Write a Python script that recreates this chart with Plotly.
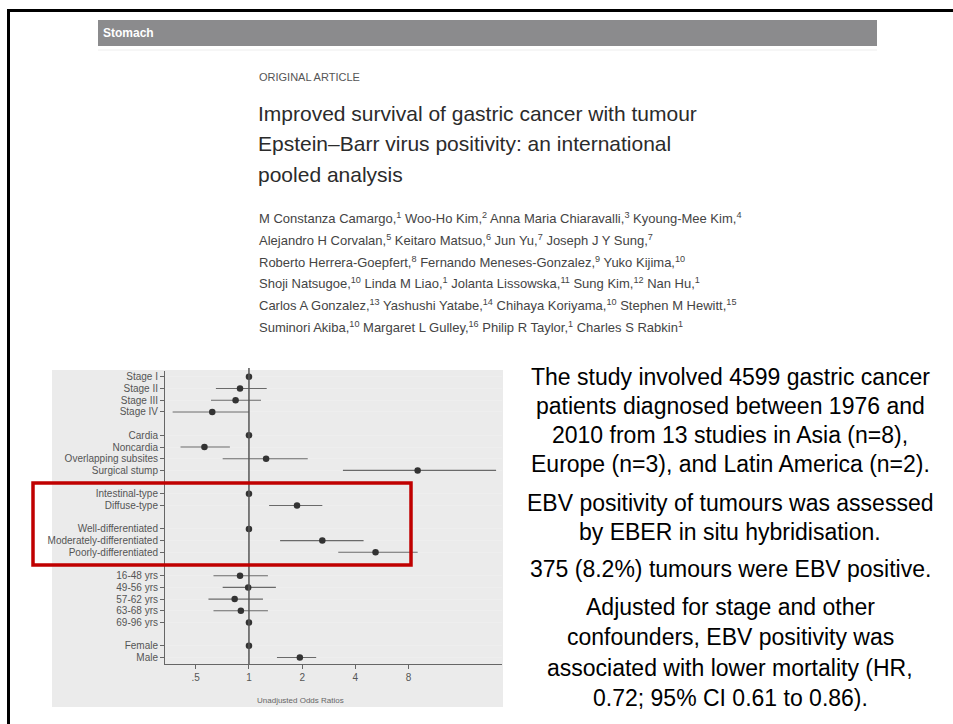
import math
import plotly.graph_objects as go

W, H = 953, 724

# ---------------- data ----------------
group_labels = [
    ["Stage I", "Stage II", "Stage III", "Stage IV"],
    ["Cardia", "Noncardia", "Overlapping subsites", "Surgical stump"],
    ["Intestinal-type", "Diffuse-type"],
    ["Well-differentiated", "Moderately-differentiated", "Poorly-differentiated"],
    ["16-48 yrs", "49-56 yrs", "57-62 yrs", "63-68 yrs", "69-96 yrs"],
    ["Female", "Male"],
]
odds_ratio = [1.0, 0.89, 0.84, 0.62,
              1.0, 0.56, 1.25, 9.0,
              1.0, 1.87,
              1.0, 2.6, 5.2,
              0.89, 0.99, 0.83, 0.90, 1.0,
              1.0, 1.94]
ci_low = [None, 0.65, 0.61, 0.37,
          None, 0.41, 0.71, 3.4,
          None, 1.30,
          None, 1.50, 3.2,
          0.63, 0.71, 0.59, 0.63, None,
          None, 1.44]
ci_high = [None, 1.26, 1.17, 1.00,
           None, 0.78, 2.15, 25.0,
           None, 2.60,
           None, 4.45, 9.0,
           1.28, 1.42, 1.20, 1.28, None,
           None, 2.40]
x_tick_vals = [0.5, 1, 2, 4, 8]
x_tick_text = [".5", "1", "2", "4", "8"]
x_axis_title = "Unadjusted Odds Ratios"

header_text = "Stomach"
kicker_text = "ORIGINAL ARTICLE"
title_lines = [
    "Improved survival of gastric cancer with tumour",
    "Epstein\u2013Barr virus positivity: an international",
    "pooled analysis",
]
author_lines = [
    "M Constanza Camargo,<sup>1</sup> Woo-Ho Kim,<sup>2</sup> Anna Maria Chiaravalli,<sup>3</sup> Kyoung-Mee Kim,<sup>4</sup>",
    "Alejandro H Corvalan,<sup>5</sup> Keitaro Matsuo,<sup>6</sup> Jun Yu,<sup>7</sup> Joseph J Y Sung,<sup>7</sup>",
    "Roberto Herrera-Goepfert,<sup>8</sup> Fernando Meneses-Gonzalez,<sup>9</sup> Yuko Kijima,<sup>10</sup>",
    "Shoji Natsugoe,<sup>10</sup> Linda M Liao,<sup>1</sup> Jolanta Lissowska,<sup>11</sup> Sung Kim,<sup>12</sup> Nan Hu,<sup>1</sup>",
    "Carlos A Gonzalez,<sup>13</sup> Yashushi Yatabe,<sup>14</sup> Chihaya Koriyama,<sup>10</sup> Stephen M Hewitt,<sup>15</sup>",
    "Suminori Akiba,<sup>10</sup> Margaret L Gulley,<sup>16</sup> Philip R Taylor,<sup>1</sup> Charles S Rabkin<sup>1</sup>",
]
summary_lines = [
    "The study involved 4599 gastric cancer",
    "patients diagnosed between 1976 and",
    "2010 from 13 studies in Asia (n=8),",
    "Europe (n=3), and Latin America (n=2).",
    "EBV positivity of tumours was assessed",
    "by EBER in situ hybridisation.",
    "375 (8.2%) tumours were EBV positive.",
    "Adjusted for stage and other",
    "confounders, EBV positivity was",
    "associated with lower mortality (HR,",
    "0.72; 95% CI 0.61 to 0.86).",
]

# ---------------- helpers ----------------
def px(x):
    return x / W

def py(y):
    return 1 - y / H

# row index for each label (one blank row between groups)
labels, rows = [], []
r = 0
for gi, g in enumerate(group_labels):
    for lab in g:
        labels.append(lab)
        rows.append(r)
        r += 1
    r += 1

SANS = "Liberation Sans, Arial, sans-serif"

fig = go.Figure()

# CI lines
cx, cy = [], []
for lo, hi, rr in zip(ci_low, ci_high, rows):
    if lo is None:
        continue
    cx += [lo, hi, None]
    cy += [rr, rr, None]
fig.add_trace(go.Scatter(x=cx, y=cy, mode="lines",
                         line=dict(color="#6a6a6a", width=1.1),
                         hoverinfo="skip", showlegend=False))
# points
fig.add_trace(go.Scatter(x=odds_ratio, y=rows, mode="markers",
                         marker=dict(color="#333333", size=6.5),
                         showlegend=False))

shapes = []
# outer slide frame (top + left edges)
shapes.append(dict(type="line", xref="paper", yref="paper",
                   x0=px(7), x1=px(953), y0=py(10.5), y1=py(10.5),
                   line=dict(color="black", width=3)))
shapes.append(dict(type="line", xref="paper", yref="paper",
                   x0=px(8.5), x1=px(8.5), y0=py(9), y1=py(724),
                   line=dict(color="black", width=3)))
# journal header bar
shapes.append(dict(type="rect", xref="paper", yref="paper",
                   x0=px(98), x1=px(877), y0=py(20), y1=py(46),
                   fillcolor="#8b8b8d", line=dict(width=0), layer="below"))
shapes.append(dict(type="line", xref="paper", yref="paper",
                   x0=px(98), x1=px(877), y0=py(50), y1=py(50),
                   line=dict(color="#eeeeee", width=1), layer="below"))
# stata grey graph panel
shapes.append(dict(type="rect", xref="paper", yref="paper",
                   x0=px(52), x1=px(503), y0=py(370), y1=py(707),
                   fillcolor="#ebebeb", line=dict(width=0), layer="below"))
# reference line at OR = 1
shapes.append(dict(type="line", xref="x", yref="y domain",
                   x0=1, x1=1, y0=0, y1=1.01,
                   line=dict(color="#555555", width=1.5)))
# red highlight box
shapes.append(dict(type="rect", xref="paper", yref="paper",
                   x0=px(33), x1=px(411), y0=py(483), y1=py(565),
                   line=dict(color="#c00000", width=3.5), fillcolor="rgba(0,0,0,0)",
                   layer="above"))

ann = []
ann.append(dict(text="<b>" + header_text + "</b>", x=px(101), y=py(33),
                xref="paper", yref="paper", xanchor="left", yanchor="middle",
                showarrow=False, font=dict(family=SANS, size=12, color="white")))
ann.append(dict(text=kicker_text, x=px(257), y=py(77),
                xref="paper", yref="paper", xanchor="left", yanchor="middle",
                showarrow=False, font=dict(family=SANS, size=11, color="#555555")))
for i, t in enumerate(title_lines):
    ann.append(dict(text=t, x=px(256), y=py(113 + 31 * i),
                    xref="paper", yref="paper", xanchor="left", yanchor="middle",
                    showarrow=False, font=dict(family=SANS, size=21, color="#2b2b2b")))
for i, t in enumerate(author_lines):
    ann.append(dict(text=t, x=px(257), y=py(218 + 21.8 * i),
                    xref="paper", yref="paper", xanchor="left", yanchor="middle",
                    showarrow=False, font=dict(family=SANS, size=13, color="#444444")))
summary_y = [377, 406, 435, 464, 503, 532, 569, 607, 637, 668, 698]
for t, yy in zip(summary_lines, summary_y):
    ann.append(dict(text=t, x=px(730), y=py(yy),
                    xref="paper", yref="paper", xanchor="center", yanchor="middle",
                    showarrow=False, font=dict(family=SANS, size=23, color="black")))
ann.append(dict(text=x_axis_title, x=px(300), y=py(700),
                xref="paper", yref="paper", xanchor="center", yanchor="middle",
                showarrow=False, font=dict(family=SANS, size=8, color="#666666")))

fig.update_layout(
    width=W, height=H, autosize=False,
    margin=dict(l=0, r=0, t=0, b=0, pad=0),
    paper_bgcolor="white", plot_bgcolor="white",
    shapes=shapes, annotations=ann, showlegend=False,
    xaxis=dict(type="log", domain=[px(165), px(502)],
               range=[math.log10(0.335), math.log10(27)],
               tickvals=x_tick_vals, ticktext=x_tick_text,
               ticks="outside", ticklen=4, tickcolor="#666666",
               showline=True, linecolor="#666666", linewidth=1,
               showgrid=False, zeroline=False,
               tickfont=dict(family=SANS, size=10, color="#555555")),
    yaxis=dict(domain=[1 - 664 / H, 1 - 371 / H],
               range=[24.55, -0.5],
               tickvals=rows, ticktext=labels,
               ticks="outside", ticklen=4, tickcolor="#666666",
               showline=True, linecolor="#666666", linewidth=1,
               showgrid=True, gridcolor="#eeeeee", gridwidth=1,
               zeroline=False,
               tickfont=dict(family=SANS, size=10, color="#555555")),
)

fig.write_html("out.html", config={"displayModeBar": False},
               post_script="document.body.style.margin='0';")
